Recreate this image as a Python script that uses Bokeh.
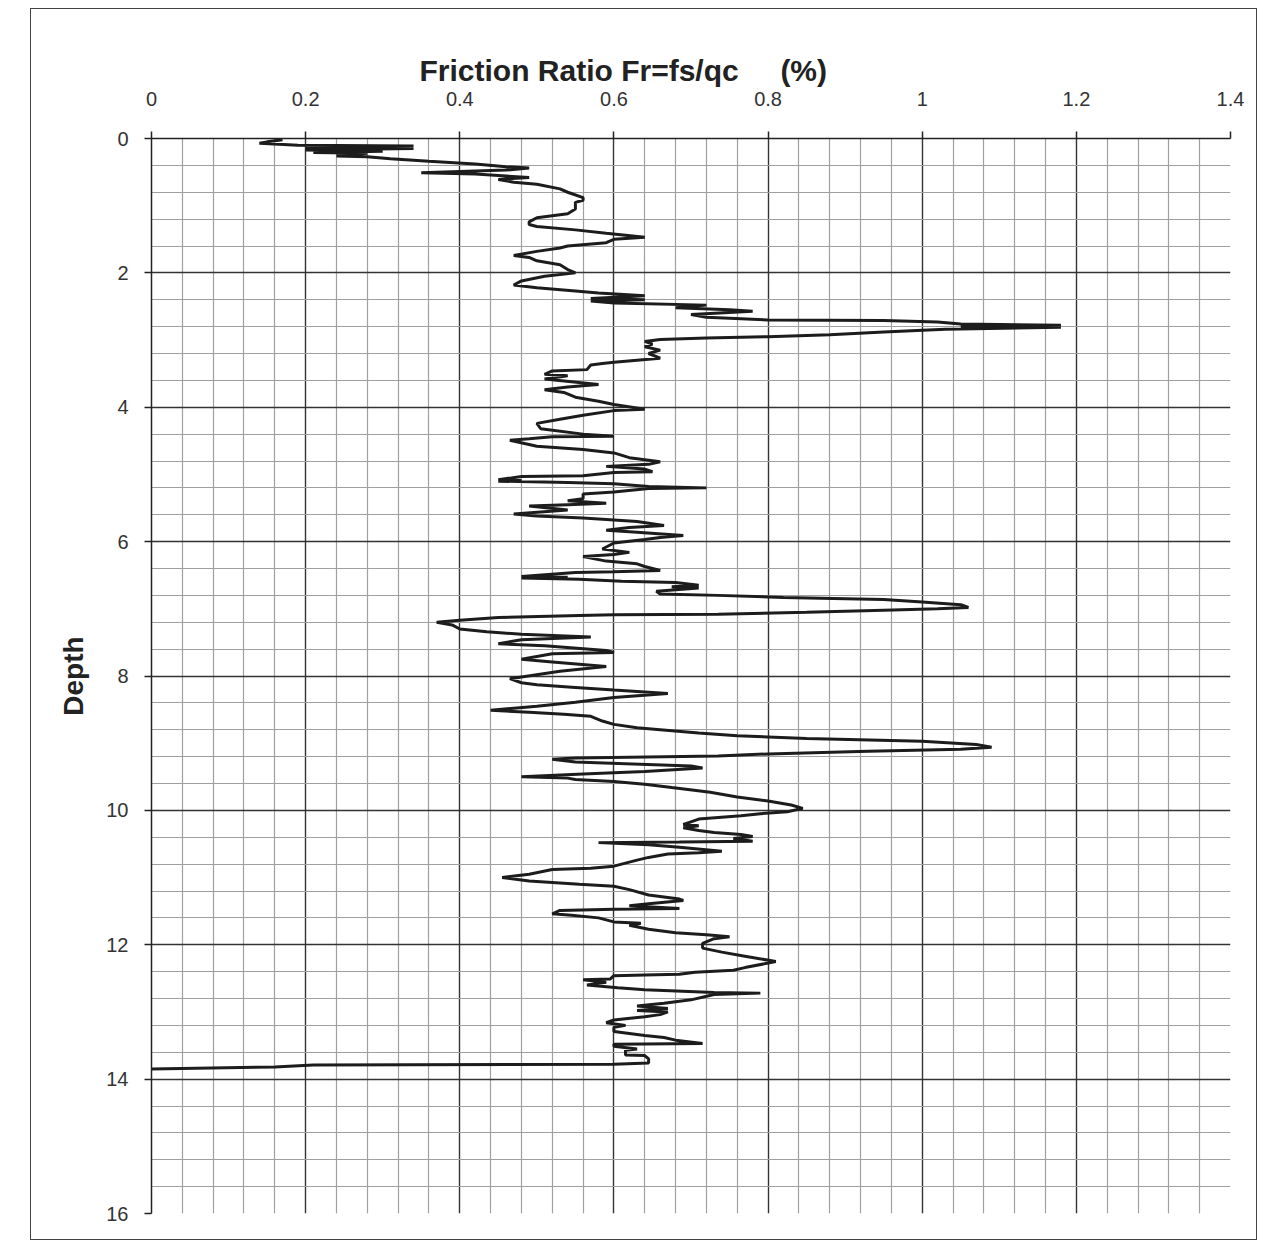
from bokeh.plotting import figure
from bokeh.models import Range1d, FixedTicker, Title, Spacer
from bokeh.layouts import row, column
from bokeh.embed import file_html
from bokeh.resources import INLINE

# ---- data: friction ratio (%) vs depth ----
fr = [0.17, 0.15, 0.14, 0.19, 0.34, 0.20, 0.34, 0.20, 0.30, 0.21, 0.28, 0.24, 0.28, 0.31, 0.36, 0.42,
      0.46, 0.49, 0.46, 0.40, 0.35, 0.42, 0.49, 0.45, 0.47, 0.50, 0.53, 0.54, 0.56, 0.56, 0.55, 0.55,
      0.54, 0.50, 0.49, 0.49, 0.50, 0.55, 0.59, 0.64, 0.60, 0.59, 0.54, 0.53, 0.50, 0.47, 0.49, 0.50,
      0.53, 0.54, 0.55, 0.51, 0.48, 0.47, 0.50, 0.55, 0.58, 0.64, 0.57, 0.64, 0.57, 0.60, 0.72, 0.68,
      0.75, 0.78, 0.70, 0.72, 0.80, 0.95, 1.02, 1.05, 1.18, 1.05, 1.18, 1.03, 0.95, 0.88, 0.80, 0.72,
      0.66, 0.64, 0.65, 0.64, 0.66, 0.645, 0.66, 0.60, 0.585, 0.57, 0.565, 0.52, 0.51, 0.54, 0.51, 0.58,
      0.54, 0.51, 0.535, 0.55, 0.58, 0.60, 0.64, 0.60, 0.56, 0.53, 0.50, 0.505, 0.56, 0.60, 0.52, 0.49,
      0.465, 0.50, 0.56, 0.60, 0.62, 0.66, 0.645, 0.59, 0.64, 0.65, 0.60, 0.56, 0.48, 0.45, 0.48, 0.45,
      0.54, 0.60, 0.645, 0.72, 0.645, 0.60, 0.56, 0.56, 0.54, 0.59, 0.54, 0.49, 0.54, 0.47, 0.50, 0.56,
      0.63, 0.665, 0.62, 0.59, 0.63, 0.69, 0.66, 0.64, 0.60, 0.585, 0.62, 0.60, 0.56, 0.59, 0.63, 0.64,
      0.66, 0.60, 0.55, 0.48, 0.54, 0.48, 0.555, 0.61, 0.68, 0.71, 0.675, 0.71, 0.655, 0.66, 0.735, 0.82,
      0.95, 1.00, 1.05, 1.06, 1.02, 0.95, 0.85, 0.735, 0.60, 0.555, 0.45, 0.40, 0.37, 0.39, 0.40, 0.435,
      0.48, 0.57, 0.48, 0.45, 0.51, 0.59, 0.60, 0.52, 0.48, 0.52, 0.59, 0.53, 0.465, 0.48, 0.50, 0.55,
      0.60, 0.67, 0.60, 0.55, 0.50, 0.44, 0.49, 0.535, 0.57, 0.585, 0.60, 0.63, 0.66, 0.71, 0.76, 0.85,
      1.00, 1.07, 1.09, 1.05, 0.93, 0.80, 0.735, 0.55, 0.52, 0.55, 0.70, 0.715, 0.64, 0.56, 0.48, 0.54,
      0.55, 0.60, 0.64, 0.675, 0.725, 0.76, 0.80, 0.83, 0.845, 0.825, 0.79, 0.765, 0.71, 0.70, 0.69, 0.71,
      0.69, 0.71, 0.73, 0.765, 0.78, 0.755, 0.78, 0.685, 0.58, 0.645, 0.685, 0.74, 0.71, 0.67, 0.645, 0.63,
      0.60, 0.57, 0.52, 0.49, 0.455, 0.49, 0.555, 0.60, 0.62, 0.645, 0.685, 0.69, 0.645, 0.62, 0.685, 0.60,
      0.53, 0.52, 0.545, 0.58, 0.60, 0.635, 0.62, 0.645, 0.68, 0.72, 0.75, 0.73, 0.715, 0.715, 0.74, 0.77,
      0.81, 0.77, 0.755, 0.705, 0.685, 0.64, 0.60, 0.595, 0.56, 0.59, 0.565, 0.605, 0.64, 0.73, 0.79, 0.73,
      0.70, 0.665, 0.63, 0.67, 0.63, 0.67, 0.66, 0.64, 0.615, 0.60, 0.59, 0.615, 0.60, 0.60, 0.62, 0.64,
      0.665, 0.68, 0.715, 0.60, 0.60, 0.63, 0.615, 0.615, 0.64, 0.645, 0.645, 0.60, 0.21, 0.16, 0.00]

depth = [0.02, 0.05, 0.07, 0.10, 0.11, 0.13, 0.15, 0.17, 0.19, 0.21, 0.22, 0.26, 0.27, 0.30, 0.34, 0.38,
         0.42, 0.44, 0.47, 0.49, 0.51, 0.53, 0.58, 0.61, 0.65, 0.68, 0.75, 0.80, 0.88, 0.92, 0.95, 1.05,
         1.12, 1.18, 1.24, 1.28, 1.31, 1.36, 1.41, 1.47, 1.50, 1.55, 1.60, 1.63, 1.68, 1.74, 1.77, 1.82,
         1.88, 1.95, 2.00, 2.05, 2.12, 2.18, 2.22, 2.27, 2.30, 2.34, 2.38, 2.40, 2.42, 2.45, 2.48, 2.52,
         2.55, 2.57, 2.62, 2.66, 2.70, 2.71, 2.73, 2.76, 2.78, 2.80, 2.81, 2.84, 2.88, 2.92, 2.95, 2.97,
         2.99, 3.02, 3.06, 3.10, 3.15, 3.20, 3.27, 3.33, 3.35, 3.37, 3.44, 3.46, 3.51, 3.53, 3.58, 3.66,
         3.70, 3.74, 3.78, 3.85, 3.91, 3.96, 4.03, 4.05, 4.12, 4.18, 4.24, 4.32, 4.40, 4.43, 4.44, 4.47,
         4.49, 4.58, 4.63, 4.68, 4.75, 4.81, 4.85, 4.88, 4.92, 4.96, 4.97, 5.02, 5.03, 5.08, 5.09, 5.10,
         5.12, 5.14, 5.18, 5.20, 5.21, 5.26, 5.29, 5.36, 5.39, 5.43, 5.45, 5.47, 5.53, 5.59, 5.62, 5.65,
         5.70, 5.76, 5.79, 5.83, 5.86, 5.91, 5.94, 5.97, 6.02, 6.11, 6.16, 6.19, 6.22, 6.29, 6.33, 6.37,
         6.43, 6.45, 6.46, 6.52, 6.53, 6.54, 6.56, 6.59, 6.61, 6.65, 6.67, 6.69, 6.74, 6.78, 6.80, 6.83,
         6.86, 6.90, 6.94, 6.98, 7.00, 7.02, 7.05, 7.08, 7.09, 7.10, 7.13, 7.17, 7.20, 7.24, 7.30, 7.34,
         7.38, 7.42, 7.46, 7.52, 7.55, 7.62, 7.65, 7.67, 7.75, 7.79, 7.86, 7.93, 8.04, 8.10, 8.13, 8.17,
         8.21, 8.26, 8.32, 8.39, 8.45, 8.51, 8.54, 8.57, 8.60, 8.67, 8.72, 8.77, 8.80, 8.85, 8.89, 8.93,
         8.97, 9.02, 9.06, 9.09, 9.12, 9.16, 9.19, 9.22, 9.24, 9.28, 9.34, 9.37, 9.42, 9.46, 9.50, 9.52,
         9.54, 9.57, 9.61, 9.66, 9.73, 9.80, 9.86, 9.92, 9.97, 10.02, 10.05, 10.08, 10.13, 10.17, 10.21, 10.23,
         10.26, 10.30, 10.33, 10.36, 10.39, 10.42, 10.46, 10.47, 10.48, 10.51, 10.55, 10.61, 10.63, 10.65, 10.70, 10.74,
         10.83, 10.86, 10.88, 10.95, 11.00, 11.05, 11.10, 11.13, 11.18, 11.26, 11.32, 11.34, 11.39, 11.42, 11.46, 11.47,
         11.49, 11.54, 11.56, 11.60, 11.66, 11.68, 11.71, 11.77, 11.82, 11.85, 11.88, 11.91, 11.98, 12.05, 12.11, 12.17,
         12.25, 12.34, 12.38, 12.41, 12.44, 12.45, 12.46, 12.51, 12.52, 12.56, 12.60, 12.64, 12.67, 12.71, 12.72, 12.74,
         12.82, 12.87, 12.91, 12.95, 12.98, 13.00, 13.04, 13.07, 13.10, 13.12, 13.16, 13.20, 13.23, 13.29, 13.32, 13.35,
         13.38, 13.42, 13.47, 13.48, 13.51, 13.55, 13.57, 13.64, 13.65, 13.70, 13.76, 13.78, 13.79, 13.82, 13.85]

x_ticks = [0, 0.2, 0.4, 0.6, 0.8, 1.0, 1.2, 1.4]
x_tick_labels = ["0", "0.2", "0.4", "0.6", "0.8", "1", "1.2", "1.4"]
y_ticks = [0, 2, 4, 6, 8, 10, 12, 14, 16]
y_tick_labels = ["0", "2", "4", "6", "8", "10", "12", "14", "16"]

title_text = "Friction Ratio Fr=fs/qc\u00a0\u00a0\u00a0\u00a0\u00a0(%)"
y_label = "Depth"

FONT = "Liberation Sans"

p = figure(width=1227, height=1232,
           x_range=Range1d(0, 1.4), y_range=Range1d(16, 0),
           x_axis_location="above", y_axis_location="left",
           output_backend="svg", toolbar_location=None,
           min_border_left=120, min_border_top=129,
           min_border_right=28, min_border_bottom=28)
p.outline_line_color = None
p.background_fill_color = "white"
p.border_fill_color = "white"

p.title = Title(text=title_text, align="left", offset=268,
                text_font=FONT, text_font_size="30px", text_font_style="bold",
                text_color="#222222", standoff=3)

# axes
xa = p.xaxis[0]
xa.ticker = FixedTicker(ticks=x_ticks)
xa.major_label_overrides = {t: l for t, l in zip(x_ticks, x_tick_labels)}
ya = p.yaxis[0]
ya.ticker = FixedTicker(ticks=y_ticks)
ya.major_label_overrides = {t: l for t, l in zip(y_ticks, y_tick_labels)}
ya.axis_label = y_label
ya.axis_label_text_font = FONT
ya.axis_label_text_font_size = "28px"
ya.axis_label_text_font_style = "bold"
ya.axis_label_text_color = "#222222"
ya.axis_label_standoff = 14

for ax in (xa, ya):
    ax.major_label_text_font = FONT
    ax.major_label_text_font_size = "20px"
    ax.major_label_text_color = "#333333"
    ax.major_tick_out = 7
    ax.major_tick_in = 0
    ax.minor_tick_out = 0
    ax.minor_tick_in = 0
    ax.axis_line_color = "#222222"
    ax.axis_line_width = 1.5
    ax.major_tick_line_color = "#222222"
    ax.major_tick_line_width = 1.5
xa.major_label_standoff = 26
ya.major_label_standoff = 16

# grids
x_minor = [round(i * 0.04, 2) for i in range(1, 36) if i % 5]
y_minor = [round(i * 0.4, 1) for i in range(1, 40) if i % 5]
p.xgrid.ticker = FixedTicker(ticks=x_ticks[1:], minor_ticks=x_minor)
p.ygrid.ticker = FixedTicker(ticks=y_ticks[1:-1], minor_ticks=y_minor)
for g in (p.xgrid[0], p.ygrid[0]):
    g.grid_line_color = "#333333"
    g.grid_line_width = 1.4
    g.minor_grid_line_color = "#a0a0a0"
    g.minor_grid_line_width = 1.2

p.line(fr, depth, line_color="#1c1c1c", line_width=3)

p.styles = {"border": "1.5px solid #444444"}

layout = column(Spacer(width=10, height=8), row(Spacer(width=30, height=10), p))
open("out.html", "w").write(file_html(layout, INLINE))
